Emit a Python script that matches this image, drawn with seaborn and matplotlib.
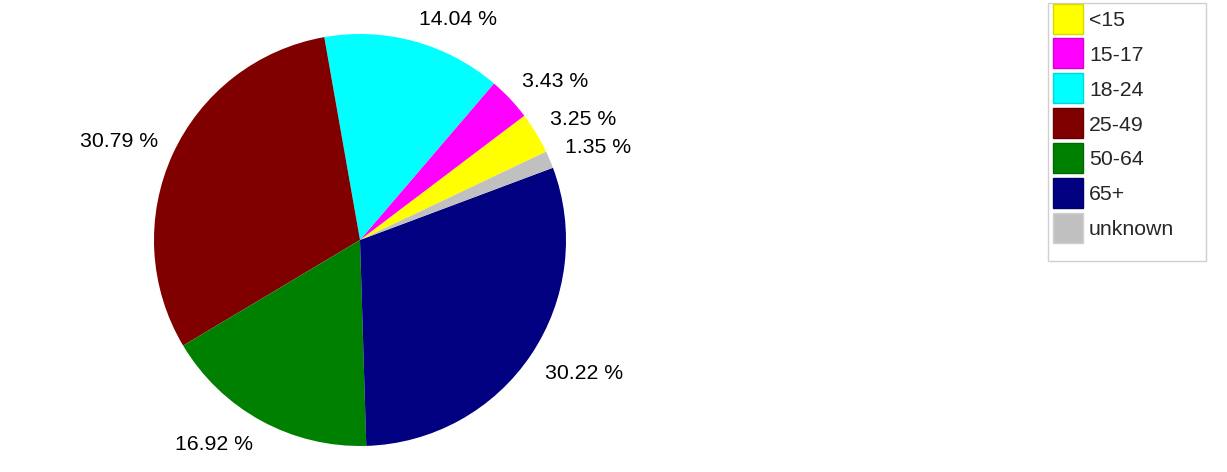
import matplotlib
matplotlib.use("Agg")
import numpy as np
import matplotlib.pyplot as plt
import seaborn as sns
from matplotlib.patches import Patch, Rectangle
from matplotlib.legend_handler import HandlerPatch

categories = ["<15", "15-17", "18-24", "25-49", "50-64", "65+", "unknown"]
percentages = [3.25, 3.43, 14.04, 30.79, 16.92, 30.22, 1.35]
colors = ["#FFFF00", "#FF00FF", "#00FFFF", "#800000", "#008000", "#000080", "#C0C0C0"]
edge_colors = ["#D8D800", "#D800D8", "#00D8D8", "#6A0000", "#006A00", "#00006A", "#D0D0D0"]

sns.set_theme(style="white")
plt.rcParams["font.family"] = ["Liberation Sans", "DejaVu Sans"]

FS = 15.3
W, H = 1227, 472
fig = plt.figure(figsize=(W / 100, H / 100), dpi=100)
cx, cy, r = 360, 240, 206
ax = fig.add_axes([(cx - r) / W, (H - cy - r) / H, 2 * r / W, 2 * r / H])

labels = [f"{p:.2f} %" for p in percentages]
wedges, texts = ax.pie(
    percentages,
    colors=colors,
    labels=labels,
    startangle=25.4,
    counterclock=True,
    wedgeprops=dict(linewidth=0),
    textprops=dict(fontsize=FS, color="black"),
)
# Place each label so its nearest corner sits just outside the wedge mid-angle
for w, t in zip(wedges, texts):
    mid = np.deg2rad((w.theta1 + w.theta2) / 2)
    x, y = 1.08 * np.cos(mid), 1.08 * np.sin(mid)
    t.set_position((x, y))
    t.set_ha("left" if x > 0 else "right")
    t.set_va("baseline" if y > 0 else "top")

ax.set_xlim(-1, 1)
ax.set_ylim(-1, 1)
ax.set_aspect("equal")
ax.axis("off")

# Legend with 30x30 px swatches
SW = 30 * 72 / 100  # swatch size in points


def make_square(legend, orig_handle, xdescent, ydescent, width, height, fontsize):
    cy_ = -ydescent + height / 2
    return Rectangle((-xdescent, cy_ - SW / 2), SW, SW)


handles = [Patch(facecolor=c, edgecolor=e, linewidth=1) for c, e in zip(colors, edge_colors)]
leg = fig.legend(
    handles, categories,
    loc="upper left",
    bbox_to_anchor=(1053 / W, 1 - 9 / H),
    fontsize=FS,
    frameon=False,
    handlelength=SW / FS,
    handleheight=1.0,
    handletextpad=0.28,
    labelspacing=0.665,
    borderpad=0,
    borderaxespad=0,
    handler_map={Patch: HandlerPatch(patch_func=make_square)},
)

fig.patches.append(Rectangle((1048 / W, 1 - 261 / H), (1206 - 1048) / W, (261 - 3) / H,
                             transform=fig.transFigure, facecolor="none",
                             edgecolor="#D0D0D0", linewidth=1))

fig.savefig("out.png", dpi=100, facecolor="white")
